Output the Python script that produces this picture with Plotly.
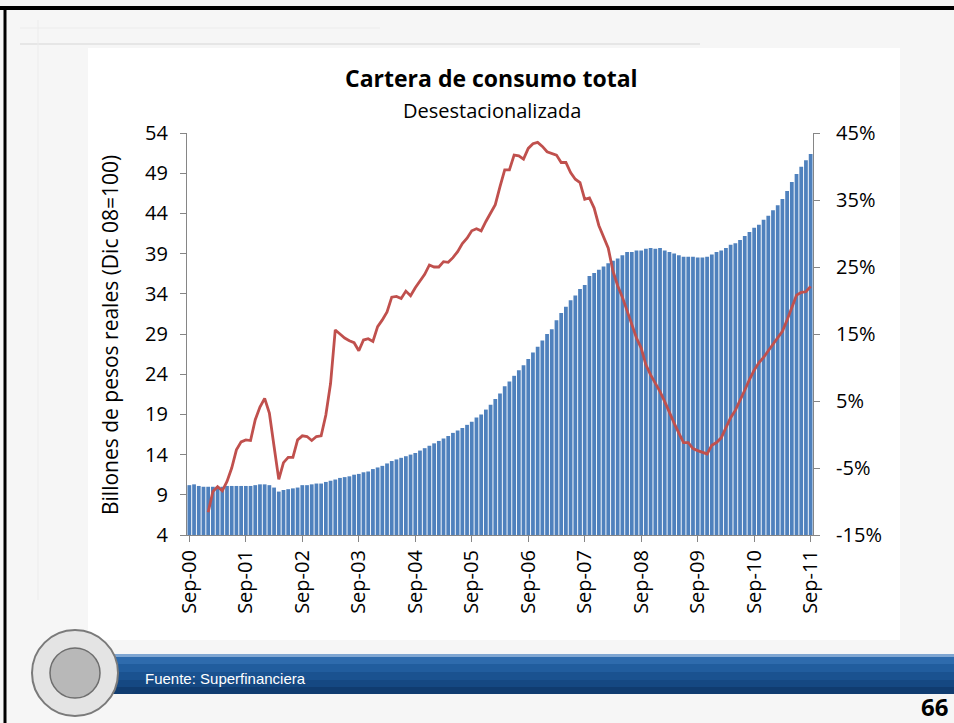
"""
Cartera de consumo total (desestacionalizada): saldo en barras y crecimiento anual en línea.
"""
import plotly.graph_objects as go

# === Datos ===
etiquetas_x = ["Sep-00", "Sep-01", "Sep-02", "Sep-03", "Sep-04", "Sep-05",
               "Sep-06", "Sep-07", "Sep-08", "Sep-09", "Sep-10", "Sep-11"]

# Saldo mensual, Sep-00 a Sep-11 (billones de pesos reales, Dic 08=100)
saldo = [
    10.2, 10.3, 10.1, 10.0, 10.0, 10.0, 10.0, 10.0, 10.1, 10.1,
    10.1, 10.1, 10.1, 10.1, 10.2, 10.3, 10.3, 10.2, 9.9, 9.4,
    9.6, 9.7, 9.8, 9.9, 10.2, 10.2, 10.3, 10.4, 10.4, 10.6,
    10.75, 10.9, 11.1, 11.2, 11.3, 11.5, 11.6, 11.8, 11.9, 12.2,
    12.4, 12.6, 12.9, 13.2, 13.4, 13.6, 13.8, 14.0, 14.2, 14.5,
    14.8, 15.1, 15.4, 15.7, 16.0, 16.3, 16.7, 17.0, 17.3, 17.7,
    18.1, 18.6, 19.0, 19.6, 20.2, 20.9, 21.6, 22.5, 23.1, 23.8,
    24.5, 25.1, 25.9, 26.7, 27.4, 28.2, 29.0, 29.6, 30.7, 31.6,
    32.4, 33.2, 33.8, 34.6, 35.1, 36.2, 36.6, 37.0, 37.4, 37.8,
    38.1, 38.4, 38.8, 39.2, 39.2, 39.4, 39.4, 39.6, 39.7, 39.6,
    39.7, 39.4, 39.2, 39.0, 38.8, 38.6, 38.6, 38.6, 38.5, 38.5,
    38.6, 38.9, 39.2, 39.4, 39.7, 40.1, 40.3, 40.7, 41.2, 41.7,
    42.2, 42.6, 43.2, 43.7, 44.4, 45.0, 45.8, 46.8, 47.9, 48.9,
    49.8, 50.6, 51.4,
]

# Crecimiento anual (%), mismo calendario; sin dato en los primeros meses
crecimiento = [
    None, None, None, None, -11.6, -8.5, -7.8, -8.4, -7.0, -5.0,
    -2.3, -1.1, -0.8, -0.9, 2.2, 4.1, 5.4, 3.2, -1.8, -6.7,
    -4.2, -3.4, -3.4, -0.8, -0.2, -0.3, -0.9, -0.3, -0.2, 2.9,
    7.6, 15.6, 15.0, 14.4, 14.0, 13.7, 12.5, 14.1, 14.3, 13.9,
    16.1, 17.1, 18.3, 20.5, 20.6, 20.3, 21.4, 20.7, 21.9, 22.9,
    23.9, 25.3, 25.0, 25.0, 25.8, 25.7, 26.4, 27.3, 28.5, 29.3,
    30.4, 30.7, 30.4, 31.8, 33.0, 34.3, 37.0, 39.5, 39.5, 41.7,
    41.6, 41.1, 42.7, 43.4, 43.6, 43.0, 42.2, 42.0, 41.7, 40.6,
    40.6, 39.1, 38.1, 37.6, 35.1, 35.3, 33.8, 31.2, 29.5, 27.8,
    24.4, 22.2, 20.5, 18.4, 16.2, 14.4, 12.9, 10.4, 8.9, 7.7,
    6.4, 4.9, 3.2, 1.7, 0.2, -1.2, -1.2, -2.1, -2.4, -2.7,
    -2.9, -1.6, -1.2, -0.5, 1.0, 2.5, 3.6, 5.0, 6.6, 8.2,
    9.6, 10.7, 11.5, 12.5, 13.5, 14.5, 15.4, 17.1, 19.1, 20.8,
    21.2, 21.3, 22.1,
]

meses = list(range(len(saldo)))
ticks_x = meses[::12]

ticks_izq = [4, 9, 14, 19, 24, 29, 34, 39, 44, 49, 54]
ticks_der = [-15, -5, 5, 15, 25, 35, 45]
etiquetas_der = ["-15%", "-5%", "5%", "15%", "25%", "35%", "45%"]

# === Geometría de la lámina (px) ===
W, H = 954, 723
L, R, T, B = 187, 141, 133, 188
PW, PH = W - L - R, H - T - B


def fx(px):
    return (px - L) / PW


def fy(py):
    return (H - B - py) / PH


FONT = "Open Sans, Calibri, sans-serif"
EJE = "#868686"

fig = go.Figure()

fig.add_trace(go.Bar(
    x=meses, y=saldo,
    marker=dict(color="#4F81BD", line=dict(width=0)),
    showlegend=False,
))

fig.add_trace(go.Scatter(
    x=meses, y=crecimiento,
    mode="lines", yaxis="y2",
    line=dict(color="#C0504D", width=2.8),
    showlegend=False,
))

# === Fondo de la lámina ===
shapes = [
    # recuadro blanco del gráfico
    dict(type="rect", xref="paper", yref="paper", layer="below",
         x0=fx(88), x1=fx(900), y0=fy(640), y1=fy(48),
         fillcolor="white", line_width=0),
    # líneas tenues de la plantilla
    dict(type="line", xref="paper", yref="paper", layer="below",
         x0=fx(20), x1=fx(700), y0=fy(44), y1=fy(44),
         line=dict(color="#e6e6e6", width=2)),
    dict(type="line", xref="paper", yref="paper", layer="below",
         x0=fx(20), x1=fx(380), y0=fy(28), y1=fy(28),
         line=dict(color="#ececec", width=1)),
    dict(type="line", xref="paper", yref="paper", layer="below",
         x0=fx(38), x1=fx(38), y0=fy(20), y1=fy(600),
         line=dict(color="#ececec", width=1)),
    # borde negro (superior e izquierdo)
    dict(type="line", xref="paper", yref="paper",
         x0=fx(0), x1=fx(W), y0=fy(8), y1=fy(8),
         line=dict(color="black", width=4)),
    dict(type="line", xref="paper", yref="paper",
         x0=fx(5), x1=fx(5), y0=fy(6), y1=fy(H),
         line=dict(color="black", width=3)),
]

# banda azul inferior (degradado en franjas)
banda = ["#7fa6d2", "#2e6bad", "#215d9e", "#1a5290", "#154882", "#103c70"]
y_banda = [654, 657, 664, 672, 680, 687, 694]
for i, c in enumerate(banda):
    shapes.append(dict(type="rect", xref="paper", yref="paper",
                       x0=fx(60), x1=fx(W), y0=fy(y_banda[i + 1]), y1=fy(y_banda[i]),
                       fillcolor=c, line_width=0))

# emblema del banco (moneda)
shapes += [
    dict(type="circle", xref="paper", yref="paper",
         x0=fx(32), x1=fx(118), y0=fy(716), y1=fy(630),
         fillcolor="#e4e4e4", line=dict(color="#7a7a7a", width=2)),
    dict(type="circle", xref="paper", yref="paper",
         x0=fx(50), x1=fx(100), y0=fy(698), y1=fy(648),
         fillcolor="#b8b8b8", line=dict(color="#6e6e6e", width=1.5)),
]


def texto(t, x, y, size, **kw):
    d = dict(text=t, xref="paper", yref="paper", x=fx(x), y=fy(y),
             xanchor="center", yanchor="middle", showarrow=False,
             font=dict(size=size))
    d.update(kw)
    return d


fig.update_layout(
    width=W, height=H, autosize=False,
    margin=dict(l=L, r=R, t=T, b=B, pad=0),
    paper_bgcolor="#f6f6f6",
    plot_bgcolor="white",
    font=dict(family=FONT, size=20, color="black"),
    bargap=0.2,
    shapes=shapes,
    xaxis=dict(
        range=[-0.5, len(saldo) - 0.5],
        tickvals=ticks_x, ticktext=etiquetas_x, tickangle=-90,
        ticks="outside", ticklen=6, tickcolor=EJE,
        showline=True, linecolor=EJE, linewidth=1.2,
        showgrid=False, zeroline=False,
        tickfont=dict(size=20),
    ),
    yaxis=dict(
        range=[4, 54], tickvals=ticks_izq,
        ticks="outside", ticklen=6, tickcolor=EJE,
        showline=True, linecolor=EJE, linewidth=1.2,
        showgrid=False, zeroline=False,
        tickfont=dict(size=20), ticklabelstandoff=8,
    ),
    yaxis2=dict(
        range=[-15, 45], tickvals=ticks_der, ticktext=etiquetas_der,
        overlaying="y", side="right",
        ticks="outside", ticklen=6, tickcolor=EJE,
        showline=True, linecolor=EJE, linewidth=1.2,
        showgrid=False, zeroline=False,
        tickfont=dict(size=20), ticklabelstandoff=12,
    ),
    annotations=[
        texto("<b>Cartera de consumo total</b>", 491, 78, 23),
        texto("Desestacionalizada", 492, 110, 20),
        texto("Billones de pesos reales (Dic 08=100)", 110, 335, 21, textangle=-90),
        texto("Fuente: Superfinanciera", 143, 678, 15, xanchor="left",
              font=dict(family="Liberation Sans, Arial, sans-serif", size=15, color="white")),
        texto("<b>66</b>", 950, 706, 24, xanchor="right"),
    ],
)

# sin margen del navegador alrededor de la figura
fig.write_html("out.html", config={"displayModeBar": False},
               post_script="document.body.style.margin='0';")
